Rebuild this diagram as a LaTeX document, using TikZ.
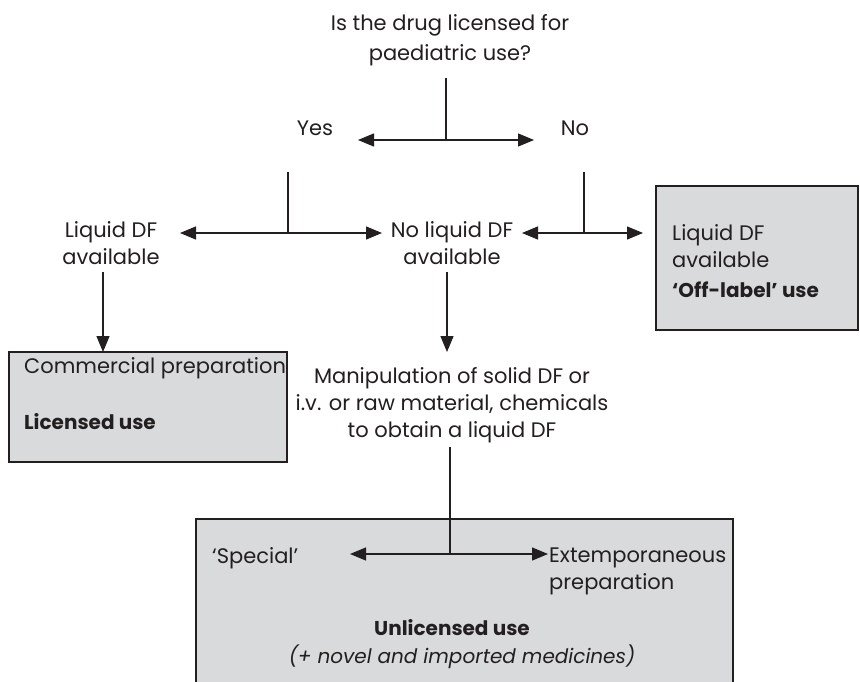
\documentclass[tikz,border=0pt]{standalone}
\usepackage{fontspec}
\setmainfont{Poppins}
\usetikzlibrary{arrows.meta}
\definecolor{boxgray}{RGB}{217,218,220}
\definecolor{ink}{RGB}{35,31,32}
\begin{document}
\begin{tikzpicture}[x=1pt,y=-1pt,
  every node/.style={text=ink, font=\fontsize{21}{27}\selectfont, inner sep=0pt},
  conn/.style={draw=ink, line width=1.4pt},
  tip/.style={Triangle[length=16pt,width=13pt]},
  arr/.style={conn, -{Triangle[length=16pt,width=13pt]}},
  darr/.style={conn, {Triangle[length=16pt,width=13pt]}-{Triangle[length=16pt,width=13pt]}},
  panel/.style={draw=ink, fill=boxgray, line width=1.8pt, minimum width=#1},
  lbl/.style={align=center},
  lft/.style={anchor=west, align=left},
  bld/.style={font=\fontsize{20}{27}\selectfont\bfseries},
  itl/.style={font=\fontsize{20}{27}\selectfont\itshape},
]
\useasboundingbox (0,0) rectangle (860,682);
\clip (0,0) rectangle (860,682);
\fill[white] (0,0) rectangle (860,682);

% boxes
\node[panel=202pt, minimum height=144pt] (rbox) at (757,258) {};
\node[panel=278pt, minimum height=110pt] (lbox) at (148,407) {};
\node[panel=537pt, minimum height=190pt] (bbox) at (464.5,614) {};

% title
\node[lbl, font=\fontsize{21}{30}\selectfont] (q) at (450,40) {Is the drug licensed for\\paediatric use?};
\node (yes) at (315,128) {Yes};
\node (no) at (575,128) {No};

\coordinate (qtop) at (446,78);
\coordinate (qj) at (446,140);
\coordinate (ytipL) at (358,140);
\coordinate (ytipR) at (534,140);
\draw[conn] (qtop) -- (qj);
\draw[darr] (ytipL) -- (ytipR);

% second level
\node[lbl] (lq) at (111,243) {Liquid DF\\available};
\node[lbl] (nlq) at (452,243) {No liquid DF\\available};
\node[lft] (rq) at (672,246) {Liquid DF\\available};
\node[lft, bld] (offl) at (672,290) {‘Off-label’ use};

\coordinate (yv) at (288,172);
\coordinate (yj) at (288,233);
\coordinate (ylt) at (180,233);
\coordinate (yrt) at (382,233);
\draw[conn] (yv) -- (yj);
\draw[darr] (ylt) -- (yrt);

\coordinate (nv) at (584,172);
\coordinate (nj) at (584,233);
\coordinate (nlt) at (522,233);
\coordinate (nrt) at (643,233);
\draw[conn] (nv) -- (nj);
\draw[darr] (nlt) -- (nrt);

% down arrows
\coordinate (la) at (103,272);
\coordinate (lb) at (103,352);
\draw[arr] (la) -- (lb);
\coordinate (ma) at (447,272);
\coordinate (mb) at (447,352);
\draw[arr] (ma) -- (mb);

% left box text
\node[lft] (comm) at (24,368) {Commercial preparation};
\node[lft, bld] (lic) at (24,422) {Licensed use};

% manipulation
\node[lbl] (manip) at (452,405) {Manipulation of solid DF or\\i.v. or raw material, chemicals\\to obtain a liquid DF};

\coordinate (bv) at (450,447);
\coordinate (bj) at (450,554);
\coordinate (blt) at (350,554);
\coordinate (brt) at (548,554);
\draw[conn] (bv) -- (bj);
\draw[darr] (blt) -- (brt);

\node[lft] (spec) at (212,558) {‘Special’};
\node[lft] (ext) at (549,571) {Extemporaneous\\preparation};
\node[bld] (unl) at (452,628) {Unlicensed use};
\node[itl] (nov) at (462,657) {(+ novel and imported medicines)};
\end{tikzpicture}
\end{document}
